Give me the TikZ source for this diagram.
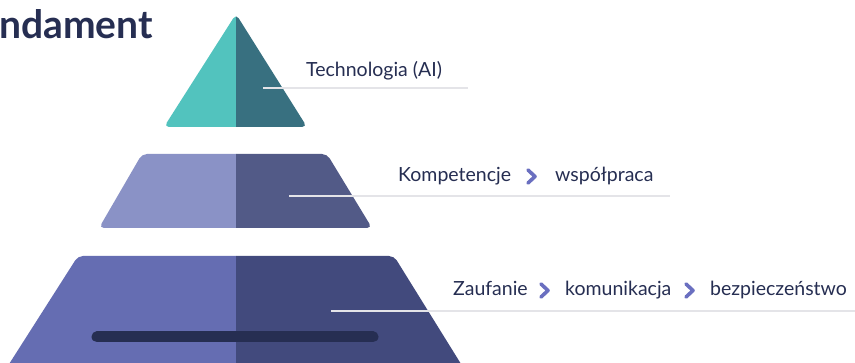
\documentclass[tikz,border=0pt]{standalone}
\usepackage{fontspec}
\setmainfont{Lato}
\begin{document}
\definecolor{ink}{HTML}{262E52}
\definecolor{tealL}{HTML}{52C3BE}
\definecolor{tealD}{HTML}{387080}
\definecolor{midL}{HTML}{8A92C6}
\definecolor{midD}{HTML}{525A87}
\definecolor{lowL}{HTML}{656DB2}
\definecolor{lowD}{HTML}{424A7D}
\definecolor{chev}{HTML}{6A6FC0}
\definecolor{rule}{HTML}{E4E4E8}
\begin{tikzpicture}[x=1pt,y=-1pt,
  leader/.style={draw=rule,line width=2.2pt},
  label/.style={font=\fontsize{19.5}{23}\selectfont,text=ink,inner sep=0pt,anchor=base west},
  chevron/.style={draw=chev,line width=3.6pt,line cap=round,line join=round},
  rc/.style={rounded corners=5pt}]
\useasboundingbox (0,0) rectangle (855,363);
\fill[white] (0,0) rectangle (855,363);

% title, partly outside the page
\node[font=\bfseries\fontsize{39}{44}\selectfont,text=ink,inner sep=0pt,anchor=base east] (title) at (153,39) {Fundament};

% pyramid tiers, each split into a light and a dark half
\newcommand{\tierhalves}[3]{%
  \begin{scope}\clip (0,0) rectangle (236,400); \fill[#1,rc] #3; \end{scope}
  \begin{scope}\clip (236,0) rectangle (900,400); \fill[#2,rc] #3; \end{scope}}
\tierhalves{tealL}{tealD}{(236,14) -- (307,127) -- (164,127) -- cycle}
\tierhalves{midL}{midD}{(142,154) -- (327,154) -- (372,228) -- (99,228) -- cycle}
\tierhalves{lowL}{lowD}{(78,256) -- (394,256) -- (466,372) -- (4,372) -- cycle}

% base bar
\draw[ink,line width=11pt,line cap=round] (97,337) -- (373,337);

% leader lines
\coordinate (a1) at (263,88);  \coordinate (a2) at (468,88);
\coordinate (b1) at (289,196); \coordinate (b2) at (670,196);
\coordinate (c1) at (331,311); \coordinate (c2) at (855,311);
\draw[leader] (a1) -- (a2);
\draw[leader] (b1) -- (b2);
\draw[leader] (c1) -- (c2);

% labels
\node[label] (tech) at (306,77) {Technologia (AI)};
\node[label] (komp) at (398,182) {Kompetencje};
\node[label] (wsp)  at (555,182) {współpraca};
\node[label] (zauf) at (453,296) {Zaufanie};
\node[label] (kom)  at (565,296) {komunikacja};
\node[label] (bez)  at (710,296) {bezpieczeństwo};

% chevrons between words
\draw[chevron] (528,170) -- (535,176.5) -- (528,183);
\draw[chevron] (541,284) -- (548,290.5) -- (541,297);
\draw[chevron] (686,284) -- (693,290.5) -- (686,297);
\end{tikzpicture}
\end{document}
